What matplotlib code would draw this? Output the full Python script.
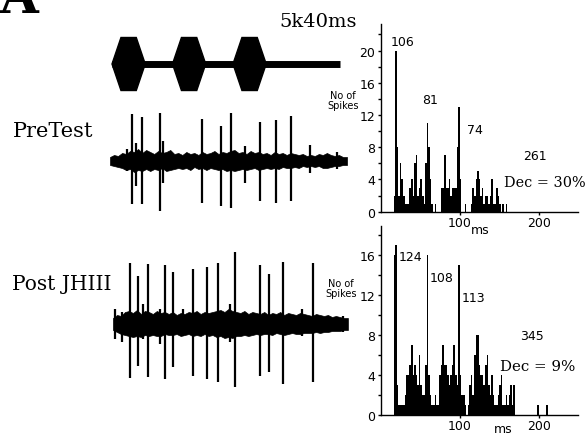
import numpy as np
import matplotlib
matplotlib.use("Agg")
import matplotlib.pyplot as plt
from matplotlib.patches import Polygon

W, H = 587, 439

# stimulus: 5 kHz pulses (ms)
pulse_onsets = [0, 40, 80]
pulse_dur = 22
sweep_end = 151

# raw traces: spike times (ms), upward and downward amplitudes (a.u.)
pre_spike_t = [9.7, 13.4, 15.9, 20.0, 31.7, 33.9, 59.3, 71.9, 78.5, 87.9, 97.9, 108.2, 118.1, 130.9, 149.0]
pre_spike_up = [12, 46.7, 18, 44, 47.7, 20, 41.7, 35, 48, 15, 39, 41, 45, 16, 9]
pre_spike_dn = [10, 43.3, 25, 43, 50, 22, 41.7, 45, 46.7, 22, 40, 41.7, 40, 12, 8]
pre_env_up = [4, 6, 5, 8, 7, 10, 9, 12, 8, 11, 9, 7, 10, 8, 9, 11, 7, 8, 6, 9,
              7, 8, 6, 9, 7, 8, 10, 7, 9, 8, 10, 11, 8, 9, 7, 10, 8, 9, 7, 8,
              6, 9, 7, 8, 6, 8, 7, 6, 7, 5, 6, 5, 7, 6, 8, 6, 5, 6, 4, 4]
pre_env_dn = [4, 5, 6, 7, 9, 8, 11, 9, 10, 8, 10, 8, 9, 7, 10, 9, 8, 7, 8, 7,
              9, 6, 8, 7, 9, 7, 8, 9, 8, 10, 9, 10, 9, 8, 9, 8, 7, 9, 8, 7,
              8, 7, 8, 6, 7, 7, 6, 7, 5, 6, 5, 6, 5, 7, 7, 6, 5, 5, 4, 4]

post_spike_t = [2.0, 6.4, 11.9, 17.4, 20.7, 24.0, 31.7, 35.0, 40.5, 47.1, 53.8, 62.6, 70.3,
                78.0, 81.3, 97.9, 104.0, 113.3, 125.4, 133.1, 153.0]
post_spike_up = [15, 12, 61, 48, 20, 60, 15, 59, 51.7, 15, 55, 56.7, 61, 20, 71.7, 59, 50, 62.3, 15, 61, 8]
post_spike_dn = [15, 18, 54.3, 41.7, 15, 53.3, 20, 55, 43.3, 12, 51.7, 55, 58.3, 18, 63.3, 51.7, 48.3, 60, 12, 58.3, 8]
post_env_up = [6, 9, 8, 12, 13, 11, 14, 10, 13, 12, 10, 13, 11, 12, 10, 12, 9, 11, 10, 12,
               11, 13, 10, 12, 11, 12, 13, 14, 12, 15, 13, 12, 11, 13, 10, 12, 11, 10, 12, 9,
               11, 10, 12, 9, 11, 10, 9, 11, 10, 9, 8, 10, 9, 8, 9, 7, 8, 7, 6, 6]
post_env_dn = [6, 8, 10, 11, 12, 13, 12, 13, 11, 12, 11, 12, 12, 10, 11, 11, 10, 12, 11, 10,
               12, 11, 12, 10, 12, 11, 13, 12, 14, 13, 14, 12, 12, 11, 12, 11, 10, 11, 10, 10,
               11, 9, 10, 11, 10, 9, 10, 10, 9, 9, 9, 8, 9, 8, 8, 7, 7, 7, 6, 6]

# PSTH counts, 2 ms bins starting at 0 ms
pre_counts = [0, 0, 0, 0, 0, 0, 0, 0, 2, 20, 8, 2, 6, 4, 2, 1, 1, 1, 3, 4,
              2, 6, 7, 2, 3, 4, 2, 1, 6, 11, 8, 4, 1, 0, 1, 0, 0, 0, 3, 3,
              7, 3, 3, 4, 2, 3, 3, 3, 8, 13, 4, 0, 0, 1, 0, 0, 0, 1, 3, 2,
              4, 5, 4, 2, 3, 1, 2, 2, 1, 2, 4, 1, 1, 3, 2, 1, 0, 1, 0, 1]
post_counts = [0, 0, 0, 0, 0, 0, 0, 0, 16, 17, 3, 1, 1, 1, 1, 2, 4, 4, 5, 7,
               4, 5, 4, 3, 6, 3, 2, 2, 5, 16, 4, 2, 1, 1, 2, 1, 1, 4, 5, 7,
               5, 5, 4, 3, 4, 5, 7, 4, 3, 15, 4, 2, 2, 1, 0, 1, 3, 4, 2, 6,
               8, 8, 5, 4, 4, 3, 5, 6, 3, 2, 4, 2, 1, 1, 2, 3, 4, 1, 1, 2,
               1, 2, 3, 1, 3, 0, 0, 0, 0, 0, 0, 0, 0, 0, 0, 0, 0, 0, 0, 1,
               0, 0, 0, 0, 0, 1]
bin_w = 2

pre_total, pre_dec = "261", "Dec = 30%"
post_total, post_dec = "345", "Dec = 9%"
pre_peaks = ["106", "81", "74"]
post_peaks = ["124", "108", "113"]

fig = plt.figure(figsize=(W / 100, H / 100), dpi=100)


def px_axes(x0, y0, x1, y1):
    return fig.add_axes([x0 / W, 1 - y1 / H, (x1 - x0) / W, (y1 - y0) / H])


def ftext(x, y, s, **kw):
    fig.text(x / W, 1 - y / H, s, **kw)


serif = "DejaVu Serif"
trace_xlim = (-7.93, 157.4)

# stimulus
ax = px_axes(100, 30, 350, 100)
ax.set_xlim(*trace_xlim)
ax.set_ylim(-35, 35)
ax.plot([0, sweep_end], [0, 0], color="black", lw=5, solid_capstyle="butt")
for t in pulse_onsets:
    d = pulse_dur
    verts = [(t, 0), (t + d * 0.27, 26.5), (t + d * 0.73, 26.5), (t + d, 0),
             (t + d * 0.73, -26.5), (t + d * 0.27, -26.5)]
    ax.add_patch(Polygon(verts, closed=True, color="black"))
ax.axis("off")


def draw_trace(ax, t0, t1, env_up, env_dn, st, up, dn):
    tt = np.linspace(t0, t1, len(env_up))
    ax.fill_between(tt, np.array(env_up), -np.array(env_dn), color="black", lw=0.5)
    ax.vlines(st, -np.array(dn), np.array(up), color="black", lw=1.6)
    ax.set_xlim(*trace_xlim)
    ax.axis("off")


ax = px_axes(100, 102, 350, 222)
ax.set_ylim(-60, 60)
draw_trace(ax, -1.3, 155.4, pre_env_up, pre_env_dn, pre_spike_t, pre_spike_up, pre_spike_dn)

ax = px_axes(100, 250, 350, 400)
ax.set_ylim(-75, 75)
draw_trace(ax, 0.7, 156.0, post_env_up, post_env_dn, post_spike_t, post_spike_up, post_spike_dn)


def draw_hist(ax, counts, ytop, ymax_tick):
    edges = np.arange(len(counts)) * bin_w
    ax.bar(edges, counts, width=bin_w, align="edge", color="black", lw=0)
    ax.set_xlim(0, 250)
    ax.set_ylim(0, ytop)
    for s in ["top", "right"]:
        ax.spines[s].set_visible(False)
    for s in ["left", "bottom"]:
        ax.spines[s].set_linewidth(1.0)
    ax.set_yticks(np.arange(0, ymax_tick + 1, 4))
    ax.set_yticks(np.arange(2, ytop, 4), minor=True)
    ax.set_xticks([100, 200])
    ax.tick_params(which="both", length=2, width=1, labelsize=9, pad=2)
    ax.tick_params(axis="x", pad=1)
    ax.set_facecolor("none")


ax1 = px_axes(381, 25, 578, 212.7)
draw_hist(ax1, pre_counts, 23.3, 20)
ax2 = px_axes(381, 227, 578, 416)
draw_hist(ax2, post_counts, 18.9, 16)

# histogram annotations
ftext(343, 101, "No of\nSpikes", ha="center", va="center", fontsize=7, linespacing=1.1)
ftext(341, 289, "No of\nSpikes", ha="center", va="center", fontsize=7, linespacing=1.1)
ftext(480, 231, "ms", ha="center", va="center", fontsize=9)
ftext(503, 430, "ms", ha="center", va="center", fontsize=9)

ftext(403, 43, pre_peaks[0], ha="center", va="center", fontsize=9)
ftext(430, 100, pre_peaks[1], ha="center", va="center", fontsize=9)
ftext(475, 131, pre_peaks[2], ha="center", va="center", fontsize=9)
ftext(535, 157, pre_total, ha="center", va="center", fontsize=9)
ftext(504, 183, pre_dec, ha="left", va="center", fontsize=10.4, family=serif)

ftext(410, 258, post_peaks[0], ha="center", va="center", fontsize=9)
ftext(442, 279, post_peaks[1], ha="center", va="center", fontsize=9)
ftext(473, 299, post_peaks[2], ha="center", va="center", fontsize=9)
ftext(532, 337, post_total, ha="center", va="center", fontsize=9)
ftext(500, 367, post_dec, ha="left", va="center", fontsize=10.8, family=serif)

# panel labels
ftext(-1, 13, "A", ha="left", va="baseline", fontsize=36, weight="bold", family=serif)
ftext(318, 27, "5k40ms", ha="center", va="baseline", fontsize=14, family=serif)
ftext(13, 137, "PreTest", ha="left", va="baseline", fontsize=15, family=serif)
ftext(12, 290, "Post JHIII", ha="left", va="baseline", fontsize=14.5, family=serif)

fig.savefig("out.png", dpi=100)
